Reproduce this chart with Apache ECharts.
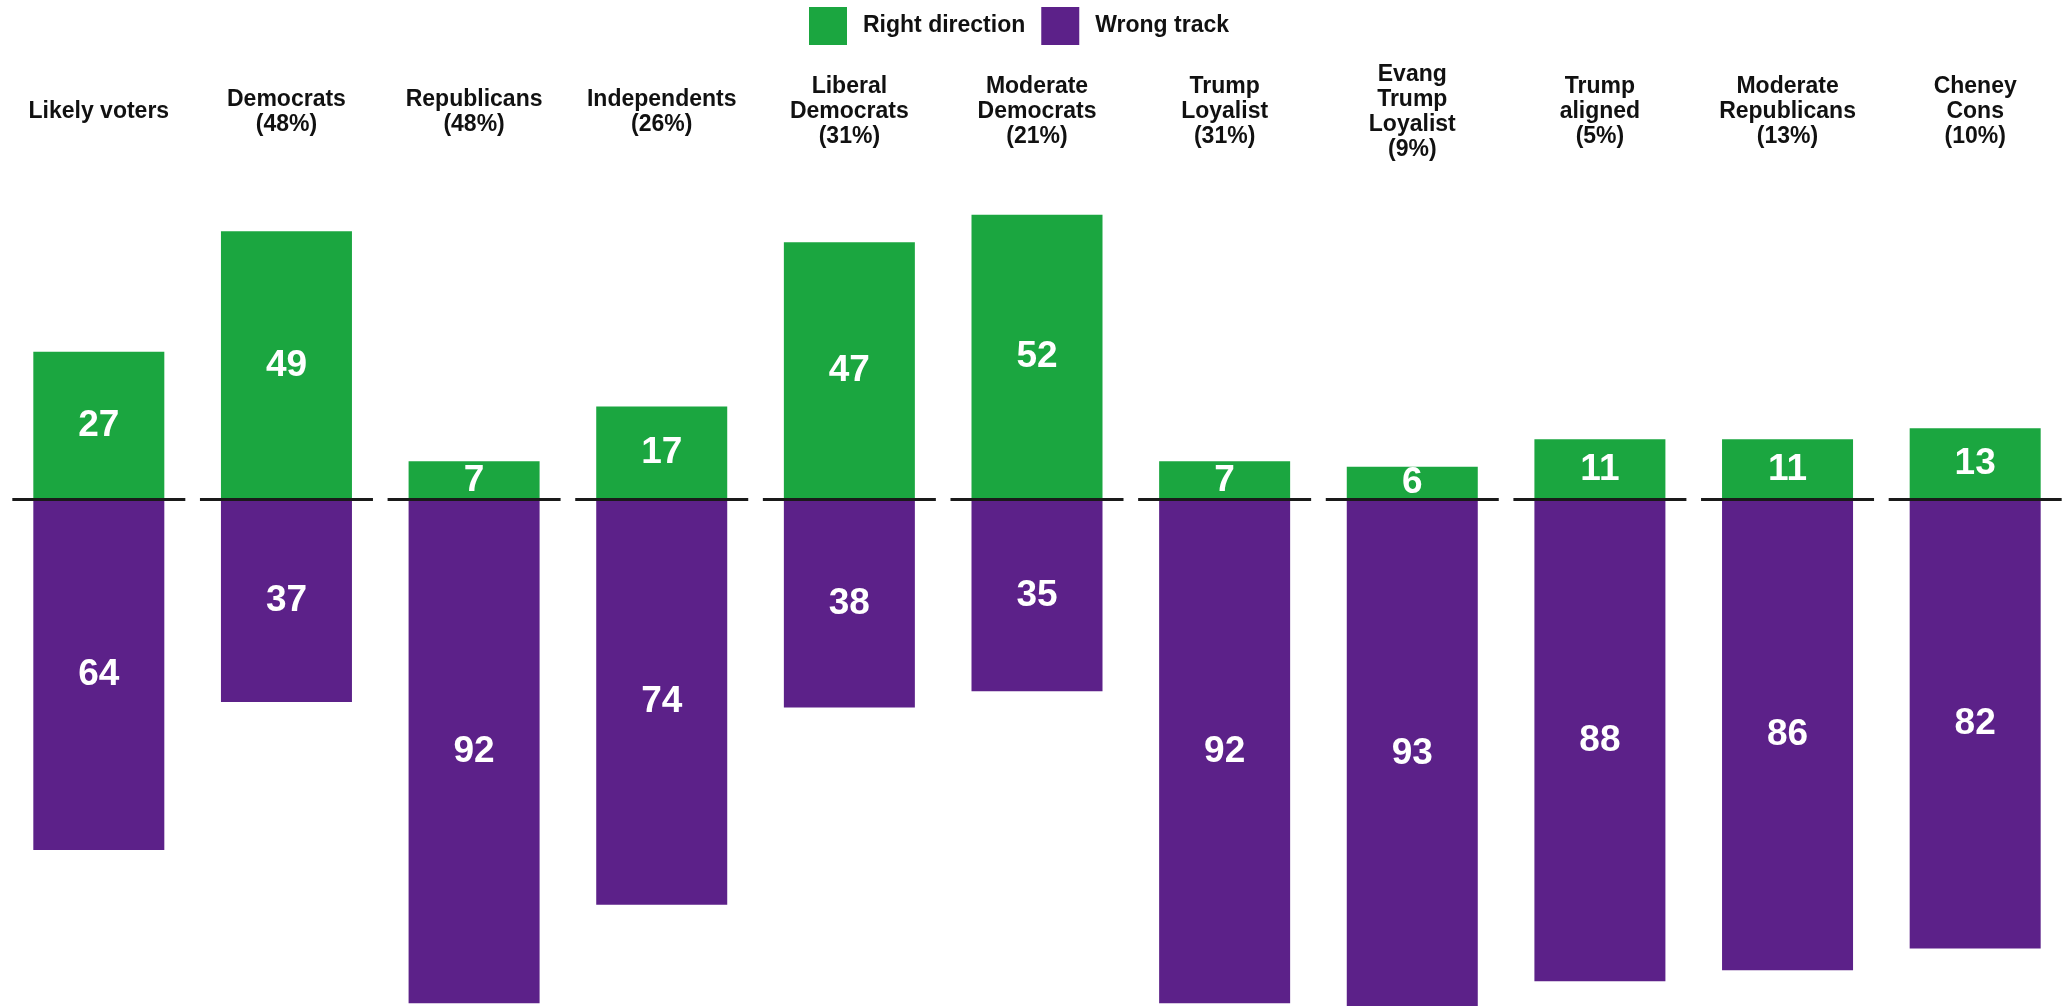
<!DOCTYPE html>
<html>
<head>
<meta charset="utf-8">
<script src="https://cdn.jsdelivr.net/npm/echarts@6/dist/echarts.min.js"></script>
<style>
html,body{margin:0;padding:0;background:#fff;}
#chart{width:2069px;height:1006px;}
</style>
</head>
<body>
<div id="chart"></div>
<script>
const categories = [
  'Likely voters',
  'Democrats\n(48%)',
  'Republicans\n(48%)',
  'Independents\n(26%)',
  'Liberal\nDemocrats\n(31%)',
  'Moderate\nDemocrats\n(21%)',
  'Trump\nLoyalist\n(31%)',
  'Evang\nTrump\nLoyalist\n(9%)',
  'Trump\naligned\n(5%)',
  'Moderate\nRepublicans\n(13%)',
  'Cheney\nCons\n(10%)'
];
const rightDirection = [27, 49, 7, 17, 47, 52, 7, 6, 11, 11, 13];
const wrongTrack = [64, 37, 92, 74, 38, 35, 92, 93, 88, 86, 82];

const GREEN = '#1BA640';
const PURPLE = '#5C2189';
const FONT = '"Liberation Sans", Arial, Helvetica, sans-serif';

const chart = echarts.init(document.getElementById('chart'), null, {renderer: 'canvas'});
chart.setOption({
  backgroundColor: '#ffffff',
  animation: false,
  textStyle: {fontFamily: FONT},
  legend: {
    data: ['Right direction', 'Wrong track'],
    top: 7,
    left: 809,
    padding: 0,
    itemWidth: 38,
    itemHeight: 38,
    itemGap: 16,
    icon: 'rect',
    textStyle: {fontSize: 23, fontWeight: 'bold', color: '#111', fontFamily: FONT, padding: [0, 0, 0, 11]}
  },
  grid: {left: 5, width: 2074, top: 171, height: 657},
  xAxis: {
    type: 'category',
    data: categories,
    position: 'top',
    axisLine: {show: false, onZero: false},
    axisTick: {show: false},
    splitLine: {show: false},
    axisLabel: {
      interval: 0,
      margin: 59,
      verticalAlign: 'middle',
      fontSize: 23,
      fontWeight: 'bold',
      lineHeight: 25,
      color: '#111',
      fontFamily: FONT
    }
  },
  yAxis: {
    type: 'value',
    min: -60,
    max: 60,
    show: false,
    splitLine: {show: false}
  },
  series: [
    {
      name: 'Right direction',
      type: 'bar',
      data: rightDirection,
      barWidth: 131,
      barGap: '-100%',
      clip: false,
      itemStyle: {color: GREEN},
      label: {
        show: true,
        position: 'inside',
        color: '#fff',
        fontSize: 37,
        fontWeight: 'bold',
        fontFamily: FONT,
        formatter: p => String(p.value)
      }
    },
    {
      name: 'Wrong track',
      type: 'bar',
      data: wrongTrack.map(v => -v),
      barWidth: 131,
      barGap: '-100%',
      clip: false,
      itemStyle: {color: PURPLE},
      label: {
        show: true,
        position: 'inside',
        color: '#fff',
        fontSize: 37,
        fontWeight: 'bold',
        fontFamily: FONT,
        formatter: p => String(Math.abs(p.value))
      }
    },
    {
      name: 'zero',
      type: 'custom',
      z: 10,
      silent: true,
      clip: false,
      data: categories.map((c, i) => [i]),
      renderItem: function (params, api) {
        const p = api.coord([api.value(0), 0]);
        const w = api.size([1, 0])[0];
        return {
          type: 'line',
          shape: {x1: p[0] - w * 0.461, y1: p[1], x2: p[0] + w * 0.461, y2: p[1]},
          style: {stroke: '#1a1a1a', lineWidth: 3}
        };
      }
    }
  ]
});
</script>
</body>
</html>
